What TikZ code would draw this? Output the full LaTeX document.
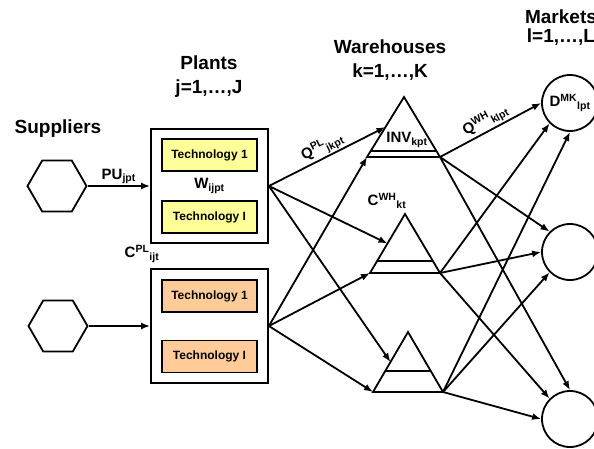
\documentclass[tikz,border=0pt]{standalone}
\usepackage{fontspec}
\setmainfont{Liberation Sans}
\usepackage{tikz}
\usetikzlibrary{calc}
\usetikzlibrary{arrows.meta}
\usetikzlibrary{shapes}
\usetikzlibrary{shapes.geometric}
\usetikzlibrary{positioning}
\tikzset{>={Latex[length=9pt,width=7pt]}}
\definecolor{techyellow}{RGB}{255,255,153}
\definecolor{techorange}{RGB}{255,204,153}
\tikzstyle{head} = [font=\fontsize{19}{24}\selectfont\bfseries, align=center]
\tikzstyle{var} = [font=\fontsize{15}{18}\selectfont\bfseries, inner sep=1]
\tikzstyle{supplier} = [draw, regular polygon, regular polygon sides=6, minimum size=59, inner sep=0]
\tikzstyle{plant} = [draw, minimum width=117, minimum height=114]
\tikzstyle{tech} = [draw, minimum width=95, minimum height=32, font=\fontsize{12}{14}\selectfont\bfseries]
\tikzstyle{market} = [draw, circle, minimum size=56, inner sep=0, font=\fontsize{15}{18}\selectfont\bfseries]
\newcommand{\sv}[3]{#1\textsuperscript{#2}\textsubscript{#3}}

\begin{document}
\begin{tikzpicture}[x=1pt, y=-1pt, line width=1.8pt]
\useasboundingbox (0, 0) rectangle (594, 448);
% headings
\node [head]  (hsup) at (58, 129) {Suppliers};
\node [head]  (hpl)  at (209, 77) {Plants\\j=1,…,J};
\node [head]  (hwh)  at (390, 60) {Warehouses\\k=1,…,K};
\node [head]  (hmk)  at (561, 28) {Markets\\[-5pt]l=1,…,L};
% suppliers and plants
\node [supplier] (sup1) at (57, 186) {};
\node [supplier] (sup2) at (58, 326) {};
\node [plant] (plant1) at (209.5, 186) {};
\node [plant] (plant2) at (209.5, 326) {};
\node [tech, fill=techyellow] (t11) at (209.5, 155) {Technology 1};
\node [tech, fill=techyellow] (t12) at (209.5, 217) {Technology I};
\node [tech, fill=techorange] (t21) at (209.5, 296) {Technology 1};
\node [tech, fill=techorange] (t22) at (209.5, 356.5) {Technology I};
\node [var] (w) at (plant1) {W\textsubscript{ijpt}};
\node [var] (cpl) at (142, 254) {\sv{C}{PL}{ijt}};
% warehouses
\coordinate (wh1a) at (404, 97);
\coordinate (wh1l) at (367, 157);
\coordinate (wh1r) at (440, 157);
\coordinate (wh2a) at (405, 214);
\coordinate (wh2l) at (370, 273);
\coordinate (wh2r) at (440, 273);
\coordinate (wh3a) at (408, 332);
\coordinate (wh3l) at (373, 392);
\coordinate (wh3r) at (443, 392);
\coordinate (wh1s) at ($(wh1a)!0.5!(wh1l)$);
\coordinate (wh2s) at ($(wh2a)!0.5!(wh2l)$);
\coordinate (wh3s) at ($(wh3a)!0.5!(wh3l)$);
\draw (wh1a) -- (wh1l) -- (wh1r) -- cycle;
\draw (wh2a) -- (wh2l) -- (wh2r) -- cycle;
\draw (wh3a) -- (wh3l) -- (wh3r) -- cycle;
\draw ($(wh1a)!0.9!(wh1l)$) -- ($(wh1a)!0.9!(wh1r)$);
\draw ($(wh2a)!0.8!(wh2l)$) -- ($(wh2a)!0.8!(wh2r)$);
\draw ($(wh3a)!0.65!(wh3l)$) -- ($(wh3a)!0.65!(wh3r)$);
\node [var] (inv) at (407, 140) {INV\textsubscript{kpt}};
\node [var] (cwh) at (387, 201) {\sv{C}{WH}{kt}};
% markets
\node [market] (mk1) at (570, 103) {\sv{D}{MK}{lpt}};
\node [market] (mk2) at (570, 252) {};
\node [market] (mk3) at (570, 419) {};
% flows
\draw [->] (sup1) -- node [var, above] {PU\textsubscript{jpt}} (plant1);
\draw [->] (sup2) -- (plant2);
\draw [->] (plant1.east) -- node [var, sloped, above] {\sv{Q}{PL}{jkpt}} (wh1s);
\draw [->] (plant1.east) -- (wh2s);
\draw [->] (plant1.east) -- (wh3s);
\draw [->] (plant2.east) -- (wh1l);
\draw [->] (plant2.east) -- (wh2l);
\draw [->] (plant2.east) -- (wh3l);
\draw [->] (wh1r) -- node [var, sloped, above] {\sv{Q}{WH}{klpt}} (mk1.west);
\draw [->] (wh1r) -- (mk2.north west);
\draw [->] (wh1r) -- (mk3.north);
\draw [->] (wh2r) -- (mk1.south west);
\draw [->] (wh2r) -- (mk2.west);
\draw [->] (wh2r) -- (mk3.north west);
\draw [->] (wh3r) -- (mk1.south);
\draw [->] (wh3r) -- (mk2.south west);
\draw [->] (wh3r) -- (mk3.west);
\end{tikzpicture}
\end{document}
